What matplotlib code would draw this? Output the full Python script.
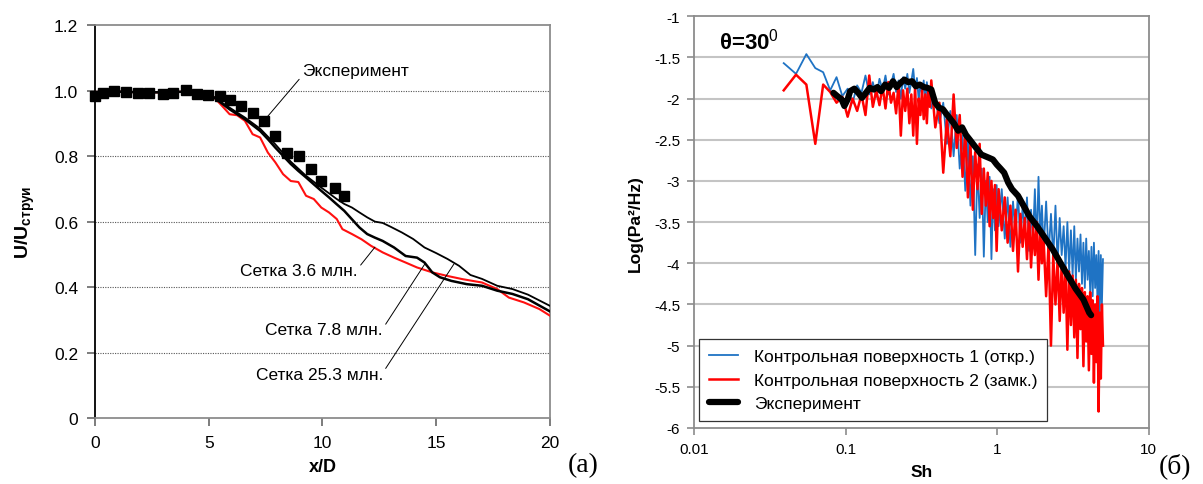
import numpy as np
import matplotlib; matplotlib.use("Agg")
import matplotlib.pyplot as plt
from matplotlib.ticker import FixedLocator, FixedFormatter, NullLocator

plt.rcParams['font.family'] = ['Liberation Sans', 'DejaVu Sans']
plt.rcParams['mathtext.fontset'] = 'custom'
plt.rcParams['mathtext.rm'] = 'Liberation Sans'
plt.rcParams['mathtext.bf'] = 'Liberation Sans:bold'

# ── (a) centreline velocity decay ─────────────────────────────────────────────
x_exp = [0.0, 0.37, 0.84, 1.38, 1.88, 2.38, 2.97, 3.44, 3.98, 4.49, 4.99, 5.5,
         5.92, 6.42, 6.93, 7.43, 7.9, 8.44, 8.98, 9.48, 9.95, 10.54, 10.96]
u_exp = [0.984, 0.994, 0.999, 0.996, 0.994, 0.994, 0.989, 0.992, 1.003, 0.989,
         0.987, 0.984, 0.972, 0.954, 0.931, 0.906, 0.86, 0.809, 0.799, 0.76,
         0.725, 0.702, 0.677]

x_red = [0, 1, 2, 3, 4, 5.0, 5.24, 5.58, 5.92, 6.25, 6.59, 6.93, 7.26, 7.6, 7.93,
         8.27, 8.61, 8.94, 9.28, 9.62, 9.95, 10.29, 10.63, 10.88, 11.3, 11.72,
         12.14, 12.65, 13.15, 13.66, 14.16, 14.83, 15.5, 16.18, 17.02, 17.69,
         18.2, 18.87, 19.54, 20.0]
u_red = [0.996, 0.997, 0.995, 0.995, 0.997, 0.99, 0.979, 0.954, 0.928, 0.925,
         0.908, 0.867, 0.857, 0.811, 0.781, 0.745, 0.724, 0.721, 0.679, 0.669,
         0.643, 0.628, 0.608, 0.577, 0.562, 0.546, 0.526, 0.506, 0.49, 0.475,
         0.46, 0.445, 0.434, 0.424, 0.414, 0.394, 0.368, 0.353, 0.333, 0.313]

x_78 = [0, 1, 2, 3, 4, 5.0, 5.24, 5.92, 6.59, 7.26, 7.6, 7.93, 8.27, 8.61, 8.94,
        9.28, 9.62, 9.95, 10.29, 10.63, 10.96, 11.3, 11.63, 11.97, 12.31, 12.65,
        13.15, 13.66, 14.16, 14.49, 14.83, 15.17, 15.67, 16.35, 17.02, 17.69,
        18.36, 19.04, 20.0]
u_78 = [0.996, 0.997, 0.995, 0.995, 0.997, 0.99, 0.979, 0.943, 0.913, 0.877,
        0.852, 0.826, 0.801, 0.776, 0.755, 0.735, 0.714, 0.694, 0.674, 0.653,
        0.633, 0.607, 0.582, 0.562, 0.551, 0.541, 0.521, 0.495, 0.49, 0.475,
        0.445, 0.43, 0.419, 0.409, 0.404, 0.389, 0.379, 0.363, 0.326]

x_253 = [0, 1, 2, 3, 4, 5.0, 5.24, 5.92, 6.59, 7.26, 7.93, 8.61, 9.28, 9.95,
         10.63, 10.96, 11.3, 11.63, 11.97, 12.31, 12.65, 12.98, 13.49, 13.99,
         14.49, 15.0, 15.5, 16.01, 16.51, 17.02, 17.69, 18.36, 19.04, 20.0]
u_253 = [0.996, 0.997, 0.995, 0.995, 0.997, 0.99, 0.979, 0.948, 0.918, 0.884,
         0.836, 0.783, 0.74, 0.704, 0.669, 0.654, 0.643, 0.628, 0.613, 0.6,
         0.596, 0.585, 0.567, 0.547, 0.521, 0.504, 0.486, 0.465, 0.437, 0.425,
         0.404, 0.394, 0.377, 0.343]

xticks_a = [0, 5, 10, 15, 20]
yticks_a = [0, 0.2, 0.4, 0.6, 0.8, 1.0, 1.2]
ylabels_a = ["0", "0.2", "0.4", "0.6", "0.8", "1.0", "1.2"]

# ── (б) spectra ──────────────────────────────────────────────────────────────
sh_sim = [0.039, 0.047, 0.055, 0.063, 0.071, 0.079, 0.087, 0.095, 0.103, 0.111,
          0.119, 0.127, 0.135, 0.143, 0.151, 0.159, 0.167, 0.175, 0.183, 0.191,
          0.199, 0.207, 0.215, 0.223, 0.231, 0.239, 0.247, 0.255, 0.263, 0.271,
          0.279, 0.287, 0.295, 0.303, 0.311, 0.319, 0.327, 0.335, 0.343, 0.351,
          0.359, 0.367,
          0.39, 0.415, 0.44, 0.465, 0.49, 0.515, 0.54, 0.565, 0.59, 0.615, 0.64,
          0.665, 0.69, 0.715, 0.74, 0.765, 0.79, 0.815, 0.84, 0.865, 0.89, 0.915,
          0.94, 0.965, 0.99,
          1.02, 1.07, 1.12, 1.17, 1.22, 1.27, 1.32, 1.37, 1.42, 1.47, 1.52, 1.57,
          1.62, 1.67, 1.72, 1.77, 1.82, 1.87, 1.92, 1.97,
          2.02, 2.10, 2.18, 2.26, 2.34, 2.42, 2.50, 2.58, 2.66, 2.74, 2.82, 2.90,
          2.98, 3.06, 3.14, 3.22, 3.30, 3.38, 3.46, 3.54, 3.62, 3.70, 3.78, 3.86,
          3.94, 4.02, 4.10, 4.18, 4.26, 4.34, 4.42, 4.50, 4.58, 4.66, 4.74, 4.82,
          4.90, 4.98]

lvl_open = [-1.57, -1.70, -1.46, -1.63, -1.68, -1.90, -1.74, -1.97, -1.88, -2.05,
            -1.84, -1.93, -1.72, -1.95, -1.80, -1.98, -1.76, -1.90, -1.72, -1.95,
            -1.83, -1.70, -1.92, -1.78, -2.00, -1.74, -1.88, -1.70, -1.93, -1.79,
            -1.64, -1.90, -1.75, -2.02, -1.82, -1.95, -1.78, -2.05, -1.80, -1.97,
            -1.88, -2.12,
            -1.98, -2.30, -2.05, -2.55, -2.15, -2.70, -2.20, -2.85, -2.45, -3.12,
            -2.50, -3.30, -2.70, -3.90, -2.80, -3.45, -2.85, -3.92, -3.00, -3.50,
            -2.95, -3.95, -3.10, -3.60, -3.05,
            -3.55, -3.10, -3.70, -3.20, -3.80, -3.25, -3.65, -3.15, -3.75, -3.30,
            -3.60, -3.20, -3.85, -3.35, -3.70, -3.10, -3.80, -2.95, -3.65, -3.30,
            -3.85, -3.25, -3.90, -3.40, -3.95, -3.30, -4.00, -3.45, -3.90, -3.55,
            -4.05, -3.50, -4.10, -3.60, -4.15, -3.55, -4.20, -3.70, -4.10, -3.65,
            -4.25, -3.75, -4.30, -3.70, -4.20, -3.85, -4.35, -3.80, -4.40, -3.75,
            -4.30, -3.90, -4.45, -3.85, -4.60, -3.90, -4.50, -3.95]

lvl_closed = [-1.90, -1.71, -1.83, -2.55, -1.83, -1.92, -2.05, -1.98, -2.22, -2.00,
              -2.15, -1.95, -2.20, -1.72, -2.10, -1.90, -2.08, -1.85, -2.12, -1.80,
              -2.05, -1.93, -2.18, -1.82, -2.45, -1.90, -2.15, -1.88, -2.30, -1.95,
              -2.45, -1.85, -2.55, -2.00, -2.20, -1.90, -2.25, -1.95, -2.30, -1.87,
              -2.10, -1.78,
              -2.35, -2.05, -2.90, -2.25, -2.70, -1.95, -2.60, -2.20, -2.95, -2.40,
              -3.20, -2.55, -3.35, -2.65, -3.10, -2.55, -3.40, -2.85, -3.30, -2.90,
              -3.55, -3.00, -3.45, -3.05, -3.85,
              -3.10, -3.60, -3.20, -3.75, -3.30, -3.85, -3.35, -4.10, -3.40, -3.80,
              -3.45, -3.95, -3.40, -4.05, -3.55, -3.90, -3.50, -4.20, -3.60, -4.00,
              -3.70, -4.40, -3.75, -5.00, -3.90, -4.50, -3.95, -4.70, -4.00, -4.60,
              -4.05, -5.05, -4.10, -4.75, -4.15, -4.90, -4.20, -5.15, -4.25, -4.80,
              -4.30, -5.25, -4.35, -4.95, -4.40, -5.30, -4.35, -5.10, -4.45, -5.45,
              -4.50, -5.20, -4.40, -5.80, -4.60, -5.40, -4.50, -5.00]

sh_exp = [0.083, 0.088, 0.094, 0.098, 0.103, 0.107, 0.114, 0.121, 0.128, 0.136,
          0.144, 0.153, 0.162, 0.171, 0.182, 0.193, 0.205, 0.217, 0.230, 0.244,
          0.258, 0.274, 0.290, 0.308, 0.327, 0.346, 0.367, 0.389, 0.412, 0.438,
          0.463, 0.492, 0.521, 0.552, 0.586, 0.621, 0.659, 0.698, 0.740, 0.785,
          0.832, 0.883, 0.935, 0.991, 1.05, 1.11, 1.18, 1.25, 1.37, 1.49, 1.63,
          1.83, 2.06, 2.32, 2.60, 2.92, 3.29, 3.70, 4.04, 4.16]
lvl_exp = [-1.93, -1.97, -2.01, -2.09, -2.01, -1.91, -1.88, -1.93, -1.99, -1.93,
           -1.87, -1.89, -1.86, -1.91, -1.83, -1.87, -1.79, -1.86, -1.81, -1.77,
           -1.80, -1.79, -1.85, -1.83, -1.86, -1.87, -1.89, -2.05, -2.11, -2.13,
           -2.19, -2.25, -2.31, -2.39, -2.35, -2.44, -2.50, -2.56, -2.62, -2.68,
           -2.70, -2.72, -2.74, -2.80, -2.85, -2.90, -3.02, -3.10, -3.18, -3.30,
           -3.43, -3.55, -3.69, -3.83, -3.99, -4.15, -4.31, -4.44, -4.60, -4.63]

xticks_b = [0.01, 0.1, 1, 10]
xlabels_b = ["0.01", "0.1", "1", "10"]
yticks_b = [-6, -5.5, -5, -4.5, -4, -3.5, -3, -2.5, -2, -1.5, -1]
ylabels_b = ["-6", "-5.5", "-5", "-4.5", "-4", "-3.5", "-3", "-2.5", "-2", "-1.5", "-1"]

GRAY = "#8c8c8c"

fig = plt.figure(figsize=(12.03, 4.85), dpi=100)

# ── panel (a) ─────────────────────────────────────────────────────────────────
ax = fig.add_axes([0.079, 0.136, 0.378, 0.810])
ax.set_xlim(0, 20); ax.set_ylim(0, 1.2)
for y in yticks_a[1:-1]:
    ax.axhline(y, color="#555555", lw=0.8, ls=(0, (1, 1.2)), zorder=1)
ax.plot(x_red, u_red, color="#ff1010", lw=1.5, zorder=3)
ax.plot(x_253, u_253, color="black", lw=1.3, zorder=3)
ax.plot(x_78, u_78, color="black", lw=1.8, zorder=3)
ax.plot(x_exp, u_exp, "s", color="black", ms=7.5, zorder=4, clip_on=False)

for s in ("top", "right", "bottom"):
    ax.spines[s].set_color(GRAY)
ax.spines["left"].set_color("black")
for s in ax.spines.values():
    s.set_linewidth(1.3)
ax.xaxis.set_major_locator(FixedLocator(xticks_a))
ax.yaxis.set_major_locator(FixedLocator(yticks_a))
ax.yaxis.set_major_formatter(FixedFormatter(ylabels_a))
ax.tick_params(axis="both", direction="out", length=6, width=1.2, color="#666666",
               labelsize=12.5, pad=6)
ax.set_xlabel("x/D", fontsize=13, fontweight="bold", labelpad=6)
ax.set_ylabel(r"$\mathbf{U/U_{струи}}$", fontsize=14, labelpad=12)

arrow = dict(arrowstyle="-", lw=0.7, color="black", shrinkA=0, shrinkB=0)
ax.annotate("Эксперимент", xy=(7.6, 0.922), xytext=(9.1, 1.063), fontsize=12.5,
            ha="left", va="center",
            arrowprops=dict(arrow, relpos=(0.0, 0.1)))
ax.annotate("Сетка 3.6 млн.", xy=(12.31, 0.522), xytext=(11.56, 0.452),
            fontsize=12.5, ha="right", va="center",
            arrowprops=dict(arrow, relpos=(1.0, 0.6)))
ax.annotate("Сетка 7.8 млн.", xy=(14.5, 0.47), xytext=(12.66, 0.269),
            fontsize=12.5, ha="right", va="center",
            arrowprops=dict(arrow, relpos=(1.0, 0.6)))
ax.annotate("Сетка 25.3 млн.", xy=(15.78, 0.47), xytext=(12.66, 0.134),
            fontsize=12.5, ha="right", va="center",
            arrowprops=dict(arrow, relpos=(1.0, 0.6)))
fig.text(583 / 1203, 1 - 466 / 485, "(a)", family="Liberation Serif",
         fontsize=20, ha="center", va="center")

# ── panel (б) ─────────────────────────────────────────────────────────────────
bx = fig.add_axes([0.577, 0.1155, 0.378, 0.849])
bx.set_xscale("log")
bx.set_xlim(0.01, 10); bx.set_ylim(-6, -1)
for y in yticks_b[1:-1]:
    bx.axhline(y, color="#c4c4c4", lw=1.5, zorder=1)
bx.plot(sh_sim, lvl_open, color="#1f73c4", lw=1.3, zorder=2,
        label="Контрольная поверхность 1 (откр.)")
bx.plot(sh_sim, lvl_closed, color="#ff0000", lw=1.8, zorder=3,
        label="Контрольная поверхность 2 (замк.)")
bx.plot(sh_exp, lvl_exp, color="black", lw=4.5, zorder=4,
        solid_capstyle="round", solid_joinstyle="round", label="Эксперимент")

for s in bx.spines.values():
    s.set_color(GRAY); s.set_linewidth(1.3)
bx.xaxis.set_major_locator(FixedLocator(xticks_b))
bx.xaxis.set_major_formatter(FixedFormatter(xlabels_b))
bx.xaxis.set_minor_locator(NullLocator())
bx.yaxis.set_major_locator(FixedLocator(yticks_b))
bx.yaxis.set_major_formatter(FixedFormatter(ylabels_b))
bx.tick_params(axis="both", direction="out", length=5, width=1.2, color=GRAY,
               labelsize=11, pad=5)
bx.set_xlabel("Sh", fontsize=12.5, fontweight="bold", labelpad=6)
bx.set_ylabel("Log(Pa²/Hz)", fontsize=12.5, fontweight="bold", labelpad=8)
bx.text(0.055, 0.94, r"θ=30$^{0}$", transform=bx.transAxes, fontsize=16,
        fontweight="bold", ha="left", va="center")

leg = bx.legend(loc="lower left", bbox_to_anchor=(0.011, 0.017), borderaxespad=0,
                fontsize=12.5, frameon=True, fancybox=False, framealpha=1,
                handlelength=1.7, handletextpad=0.9, labelspacing=0.5,
                borderpad=0.55)
leg.get_frame().set_edgecolor("#333333")
leg.get_frame().set_linewidth(0.9)
fig.text(1175 / 1203, 1 - 466 / 485, "(б)", family="Liberation Serif",
         fontsize=20, ha="center", va="center")

fig.savefig("out.png", dpi=100)
